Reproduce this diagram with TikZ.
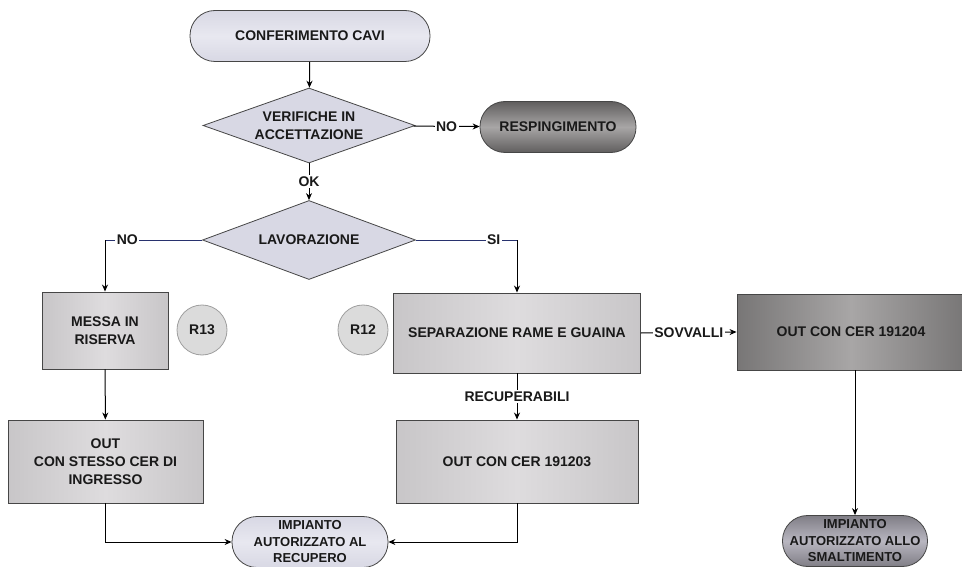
\documentclass[tikz,border=0pt]{standalone}
\usepackage{fontspec}
\setmainfont{Liberation Sans}
\usetikzlibrary{shapes.geometric,arrows.meta}
\definecolor{litefill}{RGB}{216,216,228}
\definecolor{litemid}{RGB}{232,232,240}
\definecolor{boxfill}{RGB}{200,198,200}
\definecolor{boxmid}{RGB}{222,220,222}
\definecolor{darkA}{RGB}{96,94,94}
\definecolor{darkB}{RGB}{168,166,166}
\definecolor{midA}{RGB}{128,126,134}
\definecolor{midB}{RGB}{184,182,192}
\definecolor{navyline}{RGB}{40,50,110}
\definecolor{bord}{RGB}{70,70,70}
\begin{document}
\begin{tikzpicture}[x=1pt,y=-1pt,
  every node/.style={font=\fontsize{14}{18}\selectfont\bfseries, align=center, text=black!90},
  pill/.style={draw=bord, line width=0.8pt, rounded corners=25pt, minimum width=#1, minimum height=51pt, inner sep=0pt},
  litepill/.style={pill=#1, top color=litefill, bottom color=litefill, middle color=litemid},
  darkpill/.style={pill=#1, top color=darkA, bottom color=darkA, middle color=darkB},
  midpill/.style={pill=#1, top color=midA, bottom color=midA, middle color=midB},
  dia/.style={diamond, draw=bord, line width=0.8pt, inner sep=0pt, shape aspect=2.7, fill=litefill},
  box/.style={draw=bord, line width=0.9pt, inner sep=0pt, left color=boxfill, right color=boxfill, middle color=boxmid},
  darkbox/.style={draw=bord, line width=0.9pt, inner sep=0pt, left color=darkA!85, right color=darkA!85, middle color=darkB},
  rcirc/.style={circle, draw=gray!75, line width=0.8pt, fill=gray!28, minimum size=50pt, inner sep=0pt},
  arr/.style={draw=black, line width=1pt, -{Stealth[length=7pt,width=6pt]}},
  lbl/.style={fill=white, inner sep=1.5pt},
  smallfont/.style={font=\fontsize{13}{16.5}\selectfont\bfseries}
]
\useasboundingbox (0,0) rectangle (962,567);
\clip (0,0) rectangle (962,567);
\fill[white] (0,0) rectangle (962,567);

\node[litepill=240] (conf) at (310,36) {CONFERIMENTO CAVI};
\node[dia, minimum width=212pt, minimum height=75pt] (ver) at (309,125.5) {VERIFICHE IN\\ACCETTAZIONE};
\node[darkpill=156] (resp) at (558,127) {RESPINGIMENTO};
\node[dia, minimum width=213pt, minimum height=79pt] (lav) at (309,240) {LAVORAZIONE};

\node[box, minimum width=126pt, minimum height=77pt] (messa) at (105,330.5) {MESSA IN\\RISERVA};
\node[rcirc] (r13) at (202,330) {R13};
\node[rcirc] (r12) at (363,330) {R12};
\node[box, minimum width=247pt, minimum height=80pt] (sep) at (517,333) {SEPARAZIONE RAME E GUAINA};
\node[darkbox, minimum width=228pt, minimum height=76pt] (o4) at (851,332) {OUT CON CER 191204};

\node[box, minimum width=195pt, minimum height=83pt] (ostesso) at (105.5,461.5) {OUT\\CON STESSO CER DI\\INGRESSO};
\node[box, minimum width=242pt, minimum height=83pt] (o3) at (517,461.5) {OUT CON CER 191203};

\node[litepill=156, smallfont] (rec) at (310,542) {IMPIANTO\\AUTORIZZATO AL\\RECUPERO};
\node[midpill=145, smallfont] (sma) at (855,541) {IMPIANTO\\AUTORIZZATO ALLO\\SMALTIMENTO};

\coordinate (cL) at (105,240);
\coordinate (cR) at (517,240);

\draw[arr] (conf) -- (ver);
\draw[arr] (ver) -- node[lbl]{NO} (resp);
\draw[arr] (ver) -- node[lbl]{OK} (lav);
\draw[draw=navyline, line width=1pt] (lav.west) -- node[lbl, pos=0.77]{NO} (cL);
\draw[arr] (cL) -- (messa.north);
\draw[draw=navyline, line width=1pt] (lav.east) -- node[lbl, pos=0.77]{SI} (cR);
\draw[arr] (cR) -- (sep.north);
\draw[arr] (messa) -- (ostesso);
\draw[arr] (sep) -- node[lbl]{RECUPERABILI} (o3);
\draw[arr] (sep.east) -- node[lbl]{SOVVALLI} (o4.west);
\draw[arr] (sma.north |- o4.south) -- (sma.north);
\draw[arr] (ostesso.south) |- (rec.west);
\draw[arr] (o3.south) |- (rec.east);
\end{tikzpicture}
\end{document}
